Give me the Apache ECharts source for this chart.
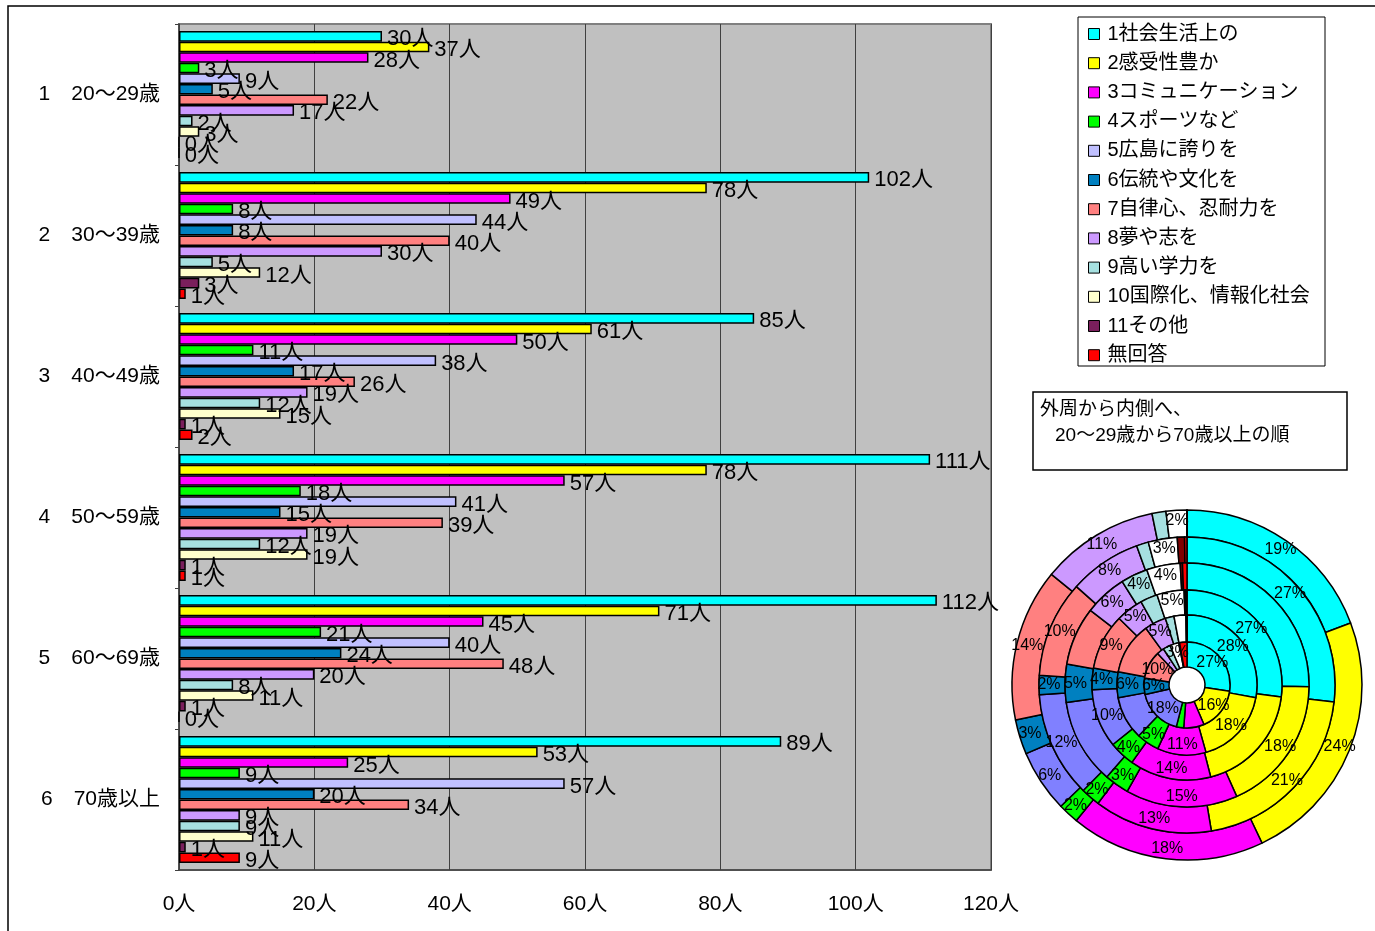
<!DOCTYPE html>
<html>
<head>
<meta charset="utf-8">
<script src="https://cdn.jsdelivr.net/npm/echarts@6/dist/echarts.min.js"></script>
<style>
  html, body { margin: 0; padding: 0; background: #fff; }
  #chart { width: 1375px; height: 931px; }
</style>
</head>
<body>
<div id="chart"></div>
<script>
// Age groups (bar categories, and rings of the donut from outside to inside)
const categories = ['1　20～29歳', '2　30～39歳', '3　40～49歳', '4　50～59歳', '5　60～69歳', '6　70歳以上'];

// Answer items
const itemNames = ['1社会生活上の', '2感受性豊か', '3コミュニケーション', '4スポーツなど', '5広島に誇りを',
  '6伝統や文化を', '7自律心、忍耐力を', '8夢や志を', '9高い学力を', '10国際化、情報化社会', '11その他', '無回答'];

// Respondents per item, one value per age group
const item1 = [30, 102, 85, 111, 112, 89];
const item2 = [37, 78, 61, 78, 71, 53];
const item3 = [28, 49, 50, 57, 45, 25];
const item4 = [3, 8, 11, 18, 21, 9];
const item5 = [9, 44, 38, 41, 40, 57];
const item6 = [5, 8, 17, 15, 24, 20];
const item7 = [22, 40, 26, 39, 48, 34];
const item8 = [17, 30, 19, 19, 20, 9];
const item9 = [2, 5, 12, 12, 8, 9];
const item10 = [3, 12, 15, 19, 11, 11];
const item11 = [0, 3, 1, 1, 1, 1];
const noAnswer = [0, 1, 2, 1, 0, 9];

const itemValues = [item1, item2, item3, item4, item5, item6, item7, item8, item9, item10, item11, noAnswer];

// Value axis ticks
const xTicks = { min: 0, max: 120, interval: 20 };

const barColors = ['#00FFFF', '#FFFF00', '#FF00FF', '#00FF00', '#C0C0FF', '#0080C0',
  '#FF8080', '#CC99FF', '#A6E0E0', '#FFFFCC', '#7A1F5C', '#FF0000'];
const pieColors = ['#00FFFF', '#FFFF00', '#FF00FF', '#00FF00', '#8080FF', '#0080C0',
  '#FF8080', '#CC99FF', '#A6E0E0', '#FFFFFF', '#800000', '#FF0000'];

const FONT = "'Liberation Sans', 'Noto Sans CJK JP', sans-serif";

const barSeries = itemNames.map((name, i) => ({
  name: name,
  type: 'bar',
  data: itemValues[i],
  barGap: '0%',
  barCategoryGap: '10%',
  itemStyle: { color: barColors[i], borderColor: '#000', borderWidth: 1.5 },
  label: {
    show: true,
    position: 'right',
    distance: 5,
    offset: [0, 3],
    formatter: '{c}人',
    fontFamily: FONT,
    fontSize: 22,
    color: '#000'
  },
  z: 2
}));

// Donut rings: outermost ring is the youngest group
const ringRadii = [[148, 175], [122, 148], [95, 122], [70, 95], [43, 70], [18, 43]];
const pieSeries = categories.map((cat, g) => ({
  name: cat,
  type: 'pie',
  center: [1187, 685],
  radius: ringRadii[g],
  startAngle: 90,
  clockwise: true,
  percentPrecision: 0,
  avoidLabelOverlap: false,
  data: itemNames.map((name, i) => ({
    name: name,
    value: itemValues[i][g],
    itemStyle: { color: pieColors[i] },
    label: { show: i < 10 && itemValues[i][g] > 0 }
  })),
  itemStyle: { borderColor: '#000', borderWidth: 1.5 },
  label: {
    position: 'inside',
    formatter: p => Math.round(p.percent) + '%',
    fontFamily: FONT,
    fontSize: 16,
    color: '#000'
  },
  labelLine: { show: false },
  emphasis: { disabled: true }
}));

const chart = echarts.init(document.getElementById('chart'), null, { renderer: 'canvas' });
chart.setOption({
  animation: false,
  backgroundColor: '#fff',
  grid: {
    left: 179, top: 24, width: 812, height: 846,
    show: true, backgroundColor: '#C0C0C0', borderColor: '#808080', borderWidth: 2
  },
  xAxis: {
    type: 'value',
    min: xTicks.min, max: xTicks.max, interval: xTicks.interval,
    axisLine: { show: true, lineStyle: { color: '#404040', width: 1.5 } },
    axisTick: { show: false },
    splitLine: { show: true, lineStyle: { color: '#404040', width: 1 } },
    axisLabel: { formatter: '{value}人', fontFamily: FONT, fontSize: 21, color: '#000', margin: 24 }
  },
  yAxis: {
    type: 'category',
    inverse: true,
    data: categories,
    axisLine: { show: true, lineStyle: { color: '#404040', width: 1.5 } },
    axisTick: { show: true, length: 4, lineStyle: { color: '#404040' } },
    axisLabel: { fontFamily: FONT, fontSize: 21, color: '#000', margin: 19 }
  },
  legend: {
    data: itemNames,
    orient: 'vertical',
    left: 1088, top: 24,
    padding: 0,
    itemWidth: 11, itemHeight: 11,
    itemGap: 9.2,
    icon: 'rect',
    itemStyle: { borderColor: '#000', borderWidth: 1 },
    textStyle: { fontFamily: FONT, fontSize: 20, color: '#000', lineHeight: 20, padding: [0, 0, 0, 3] },
    selectedMode: false
  },
  graphic: [
    { type: 'rect', z: -1, shape: { x: 8, y: 6, width: 1500, height: 1000 },
      style: { fill: 'none', stroke: '#000', lineWidth: 1.5 } },
    { type: 'rect', z: 1, shape: { x: 1078, y: 17, width: 247, height: 349 },
      style: { fill: '#fff', stroke: '#000', lineWidth: 1 } },
    { type: 'rect', z: 1, shape: { x: 1033, y: 392, width: 314, height: 78 },
      style: { fill: '#fff', stroke: '#000', lineWidth: 1.5 } },
    { type: 'text', z: 2, x: 1040, y: 400,
      style: { text: '外周から内側へ、', font: "19px 'Liberation Sans', 'Noto Sans CJK JP'", fill: '#000' } },
    { type: 'text', z: 2, x: 1055, y: 426,
      style: { text: '20～29歳から70歳以上の順', font: "19px 'Liberation Sans', 'Noto Sans CJK JP'", fill: '#000' } }
  ],
  series: barSeries.concat(pieSeries)
});
</script>
</body>
</html>
